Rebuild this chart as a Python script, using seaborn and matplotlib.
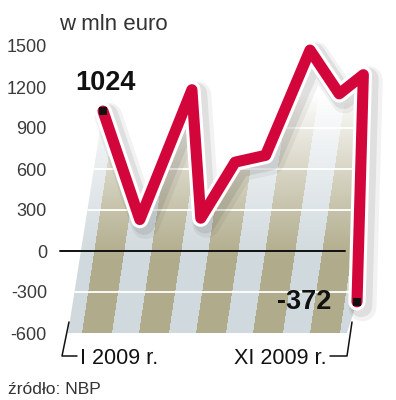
import numpy as np
import pandas as pd
import matplotlib
matplotlib.use("Agg")
import matplotlib.pyplot as plt
import matplotlib.patheffects as pe
from matplotlib.patches import Polygon
import seaborn as sns

# ---- data ----
month_pos = [0.0, 1.45, 3.5, 3.85, 5.2, 6.4, 8.15, 9.3, 10.25, 10.0]   # horizontal position (perspective-skewed months)
values = [1024, 230, 1180, 240, 650, 700, 1470, 1150, 1290, -372]     # mln euro
y_ticks = [1500, 1200, 900, 600, 300, 0, -300, -600]
title = "w mln euro"
start_label = "I 2009 r."
end_label = "XI 2009 r."
source = "źródło: NBP"

df = pd.DataFrame({"pos": month_pos, "value": values})

sns.set_style("white")
plt.rcParams["font.family"] = ["Liberation Sans", "DejaVu Sans"]

W, H = 396, 400
fig = plt.figure(figsize=(W / 100, H / 100), dpi=100)
ax_left = 55
ax = fig.add_axes([ax_left / W, 0, (W - ax_left) / W, 1])

# pixel <-> data mapping (layout)
px_per_x = 25.4
px_per_y = 41 / 300
def xd(px):
    return (px - 103) / px_per_x
def yd(py):
    return (251 - py) / px_per_y

ax.set_xlim(xd(ax_left), xd(W))
ax.set_ylim(yd(H), yd(0))
for s in ax.spines.values():
    s.set_visible(False)
ax.set_xticks([])
ax.set_yticks(y_ticks)
ax.set_yticklabels([str(t) for t in y_ticks])
ax.tick_params(axis="y", length=0, pad=5.8, labelsize=13, labelcolor="#3a3a3a")

red = "#d3063c"

# ---- striped area under the line ----
y_bottom = min(y_ticks)
poly_xy = [(xd(68), y_bottom)] + list(zip(month_pos, values)) + [(xd(347), y_bottom)]
poly = Polygon(poly_xy, closed=True, facecolor="none", edgecolor="none", transform=ax.transData)
ax.add_patch(poly)

nx, ny = W - ax_left, H
pxs = ax_left + np.arange(nx) + 0.5
pys = np.arange(ny) + 0.5
PX, PY = np.meshgrid(pxs, pys)
phase = np.mod(PX - 82 - 0.15 * (333 - PY), 57)
olive = np.array([176, 171, 138]) / 255
light = np.array([208, 217, 221]) / 255
base = np.where((phase < 30)[..., None], olive, light)
t = np.clip((PY - 95) / 165, 0, 1)[..., None] ** 0.9
img = 1 * (1 - t) + base * t
im = ax.imshow(img, extent=(xd(ax_left), xd(W), yd(H), yd(0)), origin="upper",
               aspect="auto", zorder=1, interpolation="bilinear")
im.set_clip_path(poly)

grid = ax.hlines([t_ for t_ in y_ticks if t_ not in (0, y_bottom)], xd(60), xd(360),
                 colors="white", linewidth=1.3, zorder=2)
grid.set_clip_path(poly)

ax.axhline(0, xmin=(60 - ax_left) / nx, xmax=(345 - ax_left) / nx, color="#111111",
           linewidth=1.4, zorder=3)

# ---- the line ----
sns.lineplot(data=df, x="pos", y="value", sort=False, ax=ax, color=red,
             linewidth=8, zorder=5, legend=False)
line = ax.lines[-1]
line.set_solid_capstyle("round")
line.set_solid_joinstyle("round")
line.set_path_effects([
    pe.Stroke(offset=(4, -4), linewidth=20, foreground="#000000", alpha=0.05),
    pe.Stroke(offset=(3, -3), linewidth=16, foreground="#000000", alpha=0.08),
    pe.Stroke(linewidth=12.5, foreground="white"),
    pe.Normal(),
])
ax.set_xlabel("")
ax.set_ylabel("")

ax.scatter([month_pos[0], month_pos[-1]], [values[0], values[-1]], marker="s", s=26,
           color="#111111", zorder=6, linewidths=0)

lab_font = dict(family=["Liberation Sans", "DejaVu Sans"], weight="bold",
                fontsize=19.5, color="#111111")
ax.annotate(f"{values[0]}", xy=(month_pos[0], values[0]), xytext=(2, 20),
            textcoords="offset points", ha="center", va="center", zorder=7, **lab_font)
ax.annotate(f"{values[-1]}", xy=(month_pos[-1], values[-1]), xytext=(-38, 0),
            textcoords="offset points", ha="center", va="center", zorder=7, **lab_font)

# ---- texts ----
fig.text(113 / W, 1 - 24 / H, title, ha="center", va="center", fontsize=16, color="#333333")
fig.text(80 / W, 1 - 358 / H, start_label, ha="left", va="center", fontsize=15.5, color="#111111")
fig.text(327 / W, 1 - 358 / H, end_label, ha="right", va="center", fontsize=15.5, color="#111111")
fig.text(8 / W, 1 - 389 / H, source, ha="left", va="center", fontsize=12.5, color="#333333")

# brackets
fig.add_artist(plt.Line2D([69 / W, 62 / W, 77 / W], [1 - 322 / H, 1 - 356 / H, 1 - 356 / H],
                          color="#111111", linewidth=1.1))
fig.add_artist(plt.Line2D([330 / W, 347 / W, 352 / W], [1 - 356 / H, 1 - 356 / H, 1 - 322 / H],
                          color="#111111", linewidth=1.1))

fig.savefig("out.png", dpi=100)
